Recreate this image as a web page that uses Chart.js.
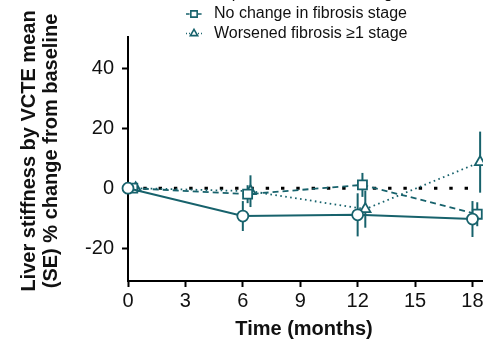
<!DOCTYPE html>
<html>
<head>
<meta charset="utf-8">
<script src="https://cdn.jsdelivr.net/npm/chart.js@4.4.1/dist/chart.umd.min.js"></script>
<style>
  html, body { margin: 0; padding: 0; background: #fff; }
  #wrap { width: 483px; height: 340px; }
</style>
</head>
<body>
<div id="wrap"><canvas id="chart" width="483" height="340"></canvas></div>
<script>
  // months of follow-up, ticks and series
  const MONTHS = [0, 6, 12, 18];
  const X_TICKS = [0, 3, 6, 9, 12, 15, 18];
  const Y_TICKS = [-20, 0, 20, 40];
  const LABELS = ["Improved fibrosis \u22651 stage", "No change in fibrosis stage", "Worsened fibrosis \u22651 stage"];
  const IMPROVED_MEAN = [0, -9.3, -8.9, -10.3];
  const IMPROVED_SE = [0, 5, 7.2, 6];
  const NOCHANGE_MEAN = [0, -2, 1.1, -8.7];
  const NOCHANGE_SE = [0, 3, 4, 4];
  const WORSENED_MEAN = [0, -1, -7, 8.7];
  const WORSENED_SE = [0, 5.3, 6.2, 10.2];
  const X_SHIFT = [0, 0.25, 0.4];   // small dodge so the symbols do not overlap
  const REF_X = [0, 18];
  const REF_Y = [0, 0];

  const TEAL = "#17626c";
  const FONT = "'Liberation Sans', Arial, Helvetica, sans-serif";

  const SERIES = [
    { mean: IMPROVED_MEAN, se: IMPROVED_SE, style: "circle", dash: [], radius: 5.5 },
    { mean: NOCHANGE_MEAN, se: NOCHANGE_SE, style: "rect", dash: [6, 4], radius: 6.4 },
    { mean: WORSENED_MEAN, se: WORSENED_SE, style: "triangle", dash: [1.6, 3.4], radius: 6 }
  ];

  function makeDataset(i){
    const s = SERIES[i];
    return {
      label: LABELS[i],
      data: MONTHS.map((m, j) => ({ x: m + X_SHIFT[i], y: s.mean[j] })),
      borderColor: TEAL,
      borderWidth: i === 0 ? 2 : 1.8,
      borderDash: s.dash,
      pointStyle: s.style,
      pointRadius: s.radius,
      pointBorderWidth: 1.8,
      pointBackgroundColor: "#fff",
      pointBorderColor: TEAL,
      tension: 0,
      clip: false,
      order: i
    };
  }

  function drawMarker(ctx, style, x, y, r){
    ctx.beginPath();
    if (style === "circle"){
      ctx.arc(x, y, r, 0, Math.PI * 2);
    } else if (style === "rect"){
      const h = r * Math.SQRT1_2;
      ctx.rect(x - h, y - h, 2 * h, 2 * h);
    } else {
      const a = r * 1.5 / Math.sqrt(3) * Math.sqrt(3) / 1.5;
      ctx.moveTo(x, y - r);
      ctx.lineTo(x + a * Math.sqrt(3) / 2, y + r / 2);
      ctx.lineTo(x - a * Math.sqrt(3) / 2, y + r / 2);
      ctx.closePath();
    }
    ctx.fillStyle = "#fff";
    ctx.fill();
    ctx.setLineDash([]);
    ctx.stroke();
  }

  const extras = {
    id: "extras",
    beforeDatasetsDraw(chart){
      const { ctx, scales: { x, y } } = chart;
      ctx.save();
      ctx.strokeStyle = TEAL;
      ctx.lineWidth = 2;
      SERIES.forEach((s, i) => {
        s.mean.forEach((m, j) => {
          const e = s.se[j];
          if (!e) return;
          const px = x.getPixelForValue(MONTHS[j] + X_SHIFT[i]);
          ctx.beginPath();
          ctx.moveTo(px, y.getPixelForValue(m + e));
          ctx.lineTo(px, y.getPixelForValue(m - e));
          ctx.stroke();
        });
      });
      ctx.restore();
    },
    afterDraw(chart){
      const ctx = chart.ctx;
      ctx.save();
      // legend (top entry is cut by the frame in the original)
      const rows = [-6, 14, 33.5];
      ctx.font = "16px " + FONT;
      ctx.textBaseline = "middle";
      ctx.textAlign = "left";
      SERIES.forEach((s, i) => {
        const ly = rows[i];
        ctx.strokeStyle = TEAL;
        ctx.lineWidth = 1.6;
        ctx.setLineDash(s.dash.length ? s.dash.map(v => v * 0.6) : []);
        ctx.beginPath();
        ctx.moveTo(186, ly);
        ctx.lineTo(202, ly);
        ctx.stroke();
        ctx.lineWidth = 1.6;
        drawMarker(ctx, s.style, 194, ly, s.radius * 0.7);
        ctx.fillStyle = "#111";
        ctx.fillText(LABELS[i], 214, ly);
      });
      // axis titles
      ctx.fillStyle = "#111";
      ctx.font = "bold 20px " + FONT;
      ctx.textAlign = "center";
      ctx.fillText("Time (months)", 304, 329);
      ctx.translate(40, 151);
      ctx.rotate(-Math.PI / 2);
      ctx.fillText("Liver stiffness by VCTE mean", 0, -11);
      ctx.fillText("(SE) % change from baseline", 0, 11);
      ctx.restore();
    }
  };

  const tickFont = { family: FONT, size: 20 };

  new Chart(document.getElementById("chart"), {
    type: "line",
    data: {
      datasets: [
        makeDataset(0),
        makeDataset(1),
        makeDataset(2),
        {
          label: "ref",
          data: REF_X.map((v, i) => ({ x: v, y: REF_Y[i] })),
          borderColor: "#000",
          borderWidth: 3,
          borderDash: [3.4, 11.9],
          pointRadius: 0,
          clip: false,
          order: 5
        }
      ]
    },
    options: {
      responsive: false,
      animation: false,
      devicePixelRatio: 1,
      layout: { autoPadding: false, padding: { top: 37, right: 0, bottom: 0, left: 0 } },
      plugins: { legend: { display: false }, tooltip: { enabled: false } },
      scales: {
        x: {
          type: "linear",
          min: 0,
          max: 18.55,
          afterBuildTicks: s => { s.ticks = X_TICKS.map(v => ({ value: v })); },
          afterFit: s => { s.height = 59; s.paddingLeft = 0; s.paddingRight = 0; },
          grid: { drawOnChartArea: false, tickLength: 6, tickWidth: 2, tickColor: "#000" },
          border: { color: "#000", width: 2 },
          ticks: { font: tickFont, color: "#111", padding: 2, maxRotation: 0, autoSkip: false }
        },
        y: {
          min: -31,
          max: 50.5,
          afterBuildTicks: s => { s.ticks = Y_TICKS.map(v => ({ value: v })); },
          afterFit: s => { s.width = 128; s.paddingTop = 0; s.paddingBottom = 0; },
          grid: { drawOnChartArea: false, tickLength: 6, tickWidth: 2, tickColor: "#000" },
          border: { color: "#000", width: 2 },
          ticks: { font: tickFont, color: "#111", padding: 8, autoSkip: false }
        }
      }
    },
    plugins: [extras]
  });
</script>
</body>
</html>
